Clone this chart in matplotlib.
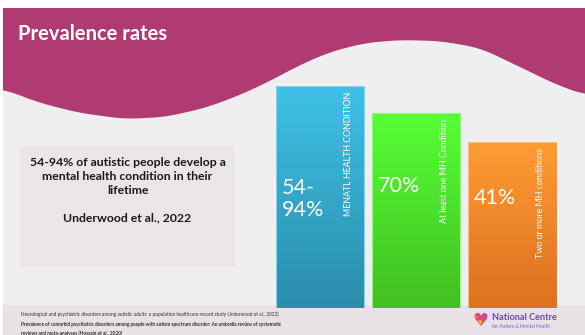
import matplotlib
matplotlib.use("Agg")
import matplotlib.pyplot as plt
import matplotlib.patches as mpatches
from matplotlib.colors import LinearSegmentedColormap
import numpy as np


# ─────────────────────────────────────────────
# DATA
# ─────────────────────────────────────────────

categories = ["MENATL HEALTH CONDITION", "At least one MH Condition", "Two or more MH conditions"]
rate_labels = ["54-\n94%", "70%", "41%"]
bar_heights = [100, 88, 75]          # relative bar heights as drawn on the slide

title = "Prevalence rates"
box_lines = ["54-94% of autistic people develop a",
             "mental health condition in their",
             "lifetime"]
box_source = "Underwood et al., 2022"
footer_refs = [
    ("Neurological and psychiatric disorders among autistic adults: a population healthcare record study Underwood et al., 2022)", "normal"),
    ("Prevalence of comorbid psychiatric disorders among people with autism spectrum disorder: An umbrella review of systematic", "bold"),
    ("reviews and meta-analyses (Hossain et al., 2020)", "bold"),
]
logo_name = "National Centre"
logo_sub = "for Autism & Mental Health"

# ─────────────────────────────────────────────
# STYLE
# ─────────────────────────────────────────────

W, H = 585, 335
MAGENTA = "#B03B72"
SLIDE_BG = "#EFEFEF"
FOOTER_BG = "#E8E2E6"
BOX_BG = "#EAE6E5"
top_colors = ["#3EC1E7", "#57FF35", "#FF9C33"]
bottom_colors = ["#2A8DAA", "#41BF22", "#DC7020"]
edge_colors = ["#7FD4EE", "#8CFF70", "#FFBE7A"]
label_y = [49, 55, 49.5]

plt.rcParams["font.family"] = ["Lato", "DejaVu Sans"]

fig = plt.figure(figsize=(W / 100, H / 100), dpi=100, facecolor="white")

# background / slide decoration in pixel coordinates
bg = fig.add_axes([0, 0, 1, 1])
bg.set_xlim(0, W)
bg.set_ylim(H, 0)
bg.axis("off")

bg.add_patch(mpatches.Rectangle((3, 8), W - 3, H - 8, color=SLIDE_BG, lw=0))

# wave shape of the header band
wx = [3, 40, 80, 125, 165, 205, 240, 268, 300, 330, 365, 400, 440, 480, 520, 555, 585]
wy = [89, 103, 113, 119, 117, 108, 95, 82, 65, 52, 43, 40, 41, 48, 67, 84, 95]
xs = np.linspace(3, W, 600)
ys = np.interp(xs, wx, wy)
k = 31
ys = np.convolve(np.pad(ys, k // 2, mode="edge"), np.ones(k) / k, mode="valid")
poly = np.vstack([[3, 8], [W, 8], np.column_stack([xs[::-1], ys[::-1]])])
bg.add_patch(mpatches.Polygon(poly, closed=True, color=MAGENTA, lw=0))

bg.text(18, 34, title, color="white", fontsize=14.5, fontweight="bold",
        va="center", ha="left")

# quote box
bg.add_patch(mpatches.Rectangle((20, 146), 215, 121, color=BOX_BG, lw=0))
for line, y in zip(box_lines, [163, 177, 191]):
    bg.text(127.5, y, line, fontsize=8.8, fontweight="bold", color="#1A1A1A",
            ha="center", va="center")
bg.text(127.5, 218, box_source, fontsize=8.8, fontweight="bold", color="#1A1A1A",
        ha="center", va="center")

# footer
bg.add_patch(mpatches.Rectangle((3, 305), W - 3, 30, color=FOOTER_BG, lw=0))
for (ref, weight), y in zip(footer_refs, [314.5, 324.5, 333.5]):
    bg.text(21, y, ref, fontsize=3.4, fontweight=weight, color="#333333",
            ha="left", va="center")

# logo
bg.text(480, 321, "\u2665", family="DejaVu Sans", fontsize=13, color="#D9468C",
        ha="center", va="center")
bg.add_patch(mpatches.Circle((480, 322), 2.2, color="#F4A43A", lw=0, zorder=5))
bg.add_patch(mpatches.Circle((476.5, 317), 1.6, color="#F27D3A", lw=0, zorder=5))
bg.text(492, 317, logo_name, fontsize=6.6, fontweight="bold", color="#6A44D6",
        ha="left", va="center")
bg.text(492, 326, logo_sub, fontsize=3.4, color="#7B5BDB", ha="left", va="center")

# ─────────────────────────────────────────────
# BARS
# ─────────────────────────────────────────────

ax = fig.add_axes([276 / W, 1 - 308 / H, 280 / W, 222 / H])
ax.set_xlim(-0.46, 2.46)
ax.set_ylim(0, 100)
ax.axis("off")

bars = ax.bar(range(len(bar_heights)), bar_heights, width=0.92, color="none",
              edgecolor=edge_colors, linewidth=0.8, zorder=3)

grad = np.linspace(0, 1, 256).reshape(-1, 1)
for i, bar in enumerate(bars):
    x0 = bar.get_x()
    x1 = x0 + bar.get_width()
    h = bar.get_height()
    cmap = LinearSegmentedColormap.from_list(f"g{i}", [bottom_colors[i], top_colors[i]])
    im = ax.imshow(grad, extent=[x0, x1, 0, h], origin="lower", cmap=cmap,
                   aspect="auto", zorder=2)
    im.set_clip_path(bar)

    ax.text(x0 + 0.065, label_y[i], rate_labels[i], color="white", fontsize=15.5,
            ha="left", va="center", linespacing=1.15, zorder=4)
    ax.annotate(categories[i], xy=(x1, h), xytext=(-11, -4.5),
                textcoords="offset points", rotation=90, ha="center", va="top",
                color="white", fontsize=6.4, zorder=4)

ax.set_xlim(-0.46, 2.46)
ax.set_ylim(0, 100)

fig.savefig("out.png", dpi=100, facecolor=fig.get_facecolor())
